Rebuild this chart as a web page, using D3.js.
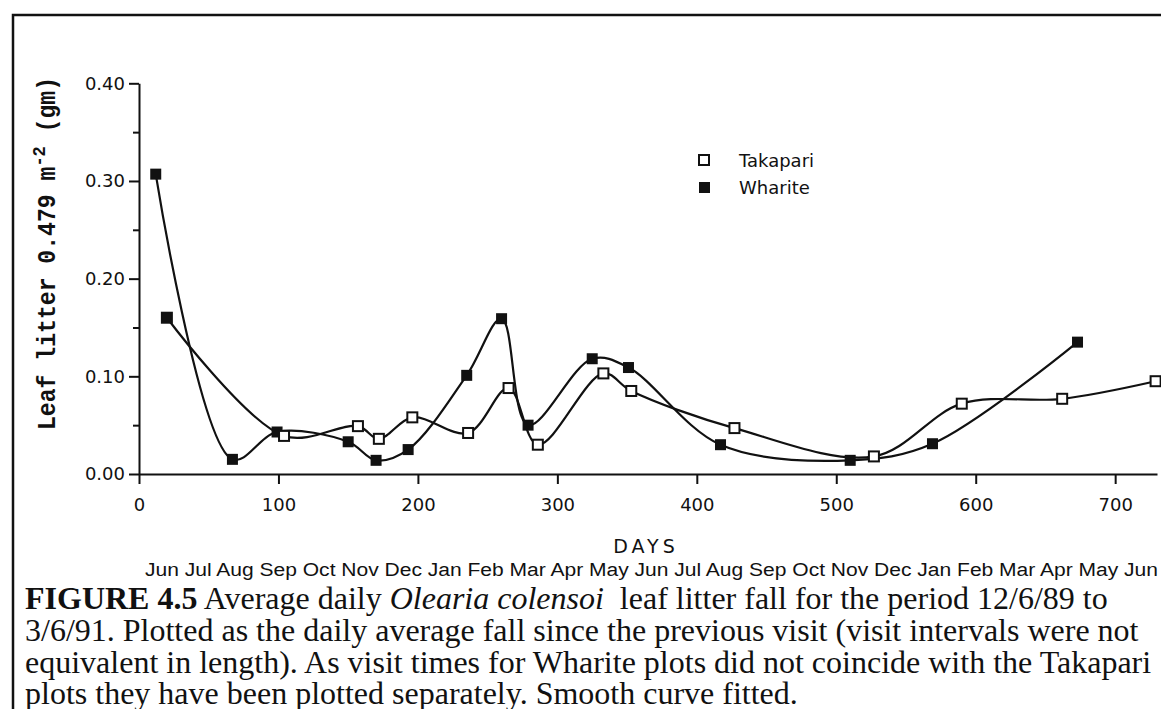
<!DOCTYPE html>
<html><head><meta charset="utf-8">
<script src="https://cdn.jsdelivr.net/npm/d3@7"></script>
<style>body{margin:0;background:#fff}svg{display:block}</style>
</head><body>
<svg id="c" width="1161" height="709"></svg>
<script>
// ---- data ----
const wharDays = [12, 67, 99, 150, 170, 193, 235, 260, 279, 325, 351, 417, 510, 569, 673];
const wharVals = [0.307, 0.015, 0.043, 0.033, 0.014, 0.025, 0.101, 0.159, 0.050, 0.118, 0.109, 0.030, 0.014, 0.031, 0.135];
const takaDays = [20, 104, 157, 172, 196, 236, 265, 286, 333, 353, 427, 527, 590, 662, 729];
const takaVals = [0.160, 0.039, 0.049, 0.036, 0.058, 0.042, 0.088, 0.030, 0.103, 0.085, 0.047, 0.018, 0.072, 0.077, 0.095];
const xTicks = [0, 100, 200, 300, 400, 500, 600, 700];
const yTicks = [0, 0.1, 0.2, 0.3, 0.4];
const yMinorTicks = [0.05, 0.15, 0.25, 0.35];
const seriesNames = ["Takapari", "Wharite"];
const months = ["Jun","Jul","Aug","Sep","Oct","Nov","Dec","Jan","Feb","Mar","Apr","May",
                "Jun","Jul","Aug","Sep","Oct","Nov","Dec","Jan","Feb","Mar","Apr","May","Jun"];
const xTitle = "DAYS";
const yTitle = ["Leaf litter 0.479 m", "-2", " (gm)"];

const svg = d3.select("#c");
const x = d3.scaleLinear().domain([0, 730]).range([139, 1157]);
const y = d3.scaleLinear().domain([0, 0.4]).range([474, 83.3]);

// frame
svg.append("path").attr("d", "M13,709 L13,15 L1161,15")
  .attr("fill", "none").attr("stroke", "#111").attr("stroke-width", 2.5);

const tickFont = "'DejaVu Sans', sans-serif";

// y axis
const yAx = svg.append("g").attr("transform", `translate(${x(0)},0)`)
  .call(d3.axisLeft(y).tickValues(yTicks).tickFormat(d3.format(".2f")).tickSize(10).tickSizeOuter(0).tickPadding(4));
const yMin = svg.append("g").attr("transform", `translate(${x(0)},0)`)
  .call(d3.axisLeft(y).tickValues(yMinorTicks).tickFormat("").tickSize(6).tickSizeOuter(0));
yMin.select(".domain").remove();

// x axis
const xAx = svg.append("g").attr("transform", `translate(0,${y(0)})`)
  .call(d3.axisBottom(x).tickValues(xTicks).tickFormat(d3.format("d")).tickSize(10).tickSizeOuter(0).tickPadding(14));

[yAx, yMin, xAx].forEach(g => {
  g.selectAll("path,line").attr("stroke", "#111").attr("stroke-width", 2);
  g.selectAll("text").attr("font-family", tickFont).attr("font-size", 18).attr("fill", "#111");
});

// axis titles
svg.append("text").attr("x", 646).attr("y", 553).attr("text-anchor", "middle")
  .attr("font-family", tickFont).attr("font-size", 19).attr("letter-spacing", 4)
  .attr("fill", "#111").text(xTitle);

const yt = svg.append("text").attr("transform", "translate(55,430) rotate(-90)")
  .attr("font-family", "'Liberation Mono', monospace").attr("font-weight", "bold")
  .attr("font-size", 26).attr("fill", "#111")
  .attr("textLength", 353).attr("lengthAdjust", "spacingAndGlyphs");
yt.append("tspan").text(yTitle[0]);
yt.append("tspan").attr("dy", -10).attr("font-size", 19).text(yTitle[1]);
yt.append("tspan").attr("dy", 10).text(yTitle[2]);

// months row
svg.append("text").attr("x", 145).attr("y", 576)
  .attr("font-family", "'Liberation Sans', sans-serif").attr("font-size", 18)
  .attr("textLength", 1013).attr("lengthAdjust", "spacingAndGlyphs")
  .attr("fill", "#111").text(months.join(" "));

// caption
const cap = svg.append("g").attr("font-family", "'Liberation Serif', 'Times New Roman', serif")
  .attr("font-size", 32).attr("fill", "#111");
const l1 = cap.append("text").attr("x", 25).attr("y", 609);
l1.append("tspan").attr("font-weight", "bold").text("FIGURE 4.5");
l1.append("tspan").text(" Average daily ");
l1.append("tspan").attr("font-style", "italic").text("Olearia colensoi");
l1.append("tspan").text("\u00a0 leaf litter fall for the period 12/6/89 to");
cap.append("text").attr("x", 25).attr("y", 641)
  .text("3/6/91. Plotted as the daily average fall since the previous visit (visit intervals were not");
cap.append("text").attr("x", 25).attr("y", 673)
  .text("equivalent in length). As visit times for Wharite plots did not coincide with the Takapari");
cap.append("text").attr("x", 25).attr("y", 704)
  .text("plots they have been plotted separately. Smooth curve fitted.");

// series
const whar = wharDays.map((d, i) => ({d, v: wharVals[i]}));
const taka = takaDays.map((d, i) => ({d, v: takaVals[i]}));
const line = d3.line().x(p => x(p.d)).y(p => y(p.v)).curve(d3.curveCatmullRom.alpha(0.5));

[whar, taka].forEach(s => {
  svg.append("path").datum(s).attr("d", line).attr("fill", "none")
    .attr("stroke", "#111").attr("stroke-width", 2.2).attr("stroke-linejoin", "round");
});

// markers
svg.append("g").selectAll("rect").data(whar).join("rect")
  .attr("x", p => x(p.d) - 5.5).attr("y", p => y(p.v) - 5.5)
  .attr("width", 11).attr("height", 11).attr("fill", "#111");
// first Takapari marker printed solid in the original
svg.append("g").selectAll("rect").data(taka).join("rect")
  .attr("x", p => x(p.d) - 5).attr("y", p => y(p.v) - 5)
  .attr("width", 10).attr("height", 10)
  .attr("fill", (p, i) => i === 0 ? "#111" : "#fff")
  .attr("stroke", "#111").attr("stroke-width", 2);

// legend
const lg = svg.append("g");
lg.append("rect").attr("x", 699).attr("y", 155).attr("width", 10).attr("height", 10)
  .attr("fill", "#fff").attr("stroke", "#111").attr("stroke-width", 2);
lg.append("rect").attr("x", 699).attr("y", 182).attr("width", 11).attr("height", 11).attr("fill", "#111");
lg.selectAll("text").data(seriesNames).join("text")
  .attr("x", 739).attr("y", (d, i) => 167 + i * 27)
  .attr("font-family", tickFont).attr("font-size", 18).attr("fill", "#111").text(d => d);
</script>
</body></html>
